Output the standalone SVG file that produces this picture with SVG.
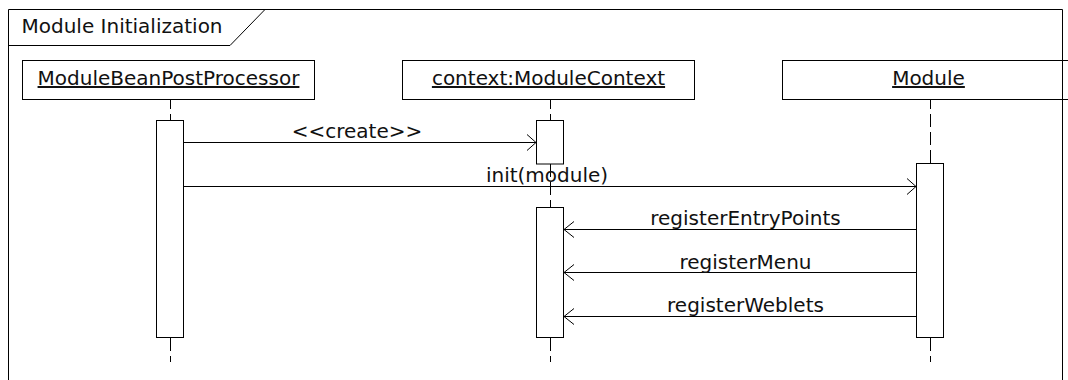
<svg xmlns="http://www.w3.org/2000/svg" width="1068" height="380" viewBox="0 0 1068 380">
<style>
text{font-family:"DejaVu Sans","Liberation Sans",sans-serif;font-size:20px;fill:#111}
.lbl{text-anchor:middle}
.hd{text-anchor:middle;text-decoration:underline}
.box{fill:#fff;stroke:#000;stroke-width:1}
.bar{fill:#fff;stroke:#000;stroke-width:1}
.life{fill:none;stroke:#000;stroke-width:1;stroke-dasharray:13 5}
.msg{fill:none;stroke:#000;stroke-width:1}
.frame{fill:none;stroke:#000;stroke-width:1}
</style>
<rect width="1068" height="380" fill="#fff"/>
<g id="lifelines">
<path class="life" d="M170.5,96V121M170.5,338V362"/>
<path class="life" d="M550.5,96V121M550.5,164V208M550.5,338V362"/>
<path class="life" d="M930.5,96V164M930.5,338V362"/>
</g>
<g id="node-mbpp">
<rect class="box" x="22.5" y="60.5" width="292" height="39"/>
<text class="hd" x="168.5" y="85">ModuleBeanPostProcessor</text>
<rect class="bar" x="156.5" y="120.5" width="27" height="217"/>
</g>
<g id="node-context">
<rect class="box" x="402.5" y="60.5" width="292" height="39"/>
<text class="hd" x="548.5" y="85">context:ModuleContext</text>
<rect class="bar" x="536.5" y="120.5" width="27" height="43.5"/>
<rect class="bar" x="536.5" y="207.5" width="27" height="130"/>
</g>
<g id="node-module">
<rect class="box" x="782.5" y="60.5" width="292" height="39"/>
<text class="hd" x="928.5" y="85">Module</text>
<rect class="bar" x="916.5" y="163.5" width="27" height="174"/>
</g>
<g id="connectors">
<path class="msg" d="M183.5,142.5H536M527,134.5L536,142.5L527,150.5"/>
<text class="lbl" x="357" y="138">&lt;&lt;create&gt;&gt;</text>
<path class="msg" d="M183.5,186.5H916M907,178.5L916,186.5L907,194.5"/>
<text class="lbl" x="547" y="182">init(module)</text>
<path class="msg" d="M916,229.5H564M574,221.5L564,229.5L574,237.5"/>
<text class="lbl" x="745.5" y="225">registerEntryPoints</text>
<path class="msg" d="M916,272.5H564M574,264.5L564,272.5L574,280.5"/>
<text class="lbl" x="745.5" y="269">registerMenu</text>
<path class="msg" d="M916,316.5H564M574,308.5L564,316.5L574,324.5"/>
<text class="lbl" x="745.5" y="312">registerWeblets</text>
</g>
<g id="frame">
<path class="frame" d="M8.5,390V9.5H1062.5V390"/>
<path class="frame" d="M8.5,45.5H230L265,9.5"/>
<text x="21.5" y="33">Module Initialization</text>
</g>
</svg>
